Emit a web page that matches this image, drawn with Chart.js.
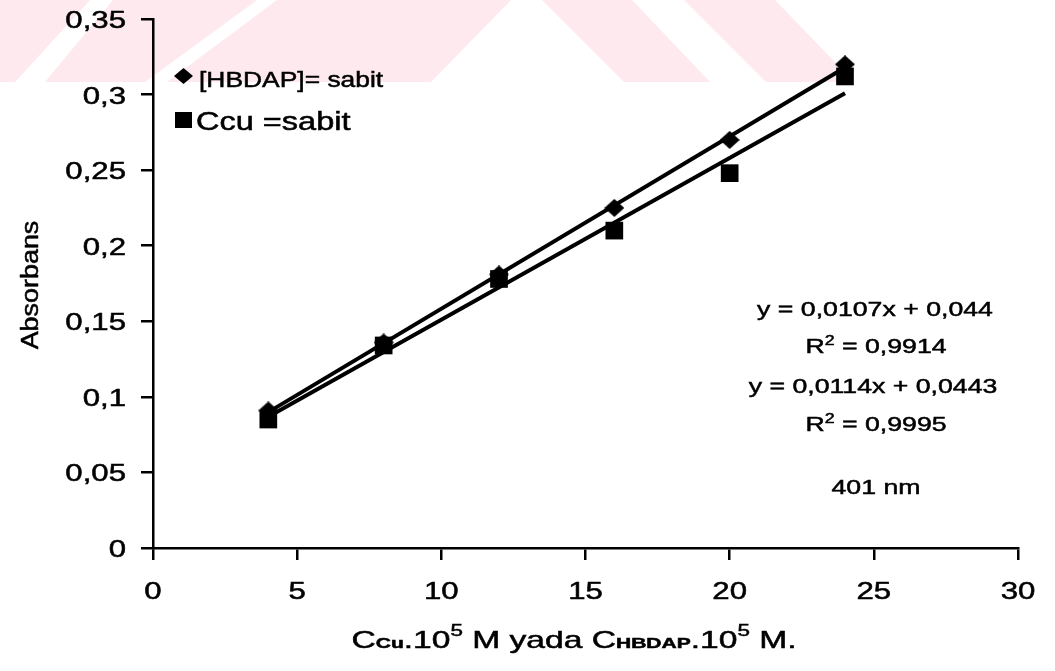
<!DOCTYPE html>
<html lang="tr">
<head>
<meta charset="UTF-8">
<title>Absorbans - derişim (401 nm)</title>
<script src="https://cdn.jsdelivr.net/npm/chart.js"></script>
<style>
  body { margin: 0; background: #fff; }
  #wrap { width: 1055px; height: 671px; }
</style>
</head>
<body>
<div id="wrap"><canvas id="absChart" width="1055" height="671"></canvas></div>
<script>
// concentrations (x 10^5 M)
const concentrations = [4, 8, 12, 16, 20, 24];
// absorbance at 401 nm
const absHbdapConst = [0.091, 0.136, 0.181, 0.225, 0.270, 0.320];
const absCuConst = [0.085, 0.134, 0.178, 0.210, 0.248, 0.312];
// least squares fits: [slope, intercept, R2]
const fitCuConst = [0.0107, 0.044, 0.9914];
const fitHbdapConst = [0.0114, 0.0443, 0.9995];
// axis ticks
const yTicks = [0, 0.05, 0.1, 0.15, 0.2, 0.25, 0.3, 0.35];
const xTicks = [0, 5, 10, 15, 20, 25, 30];

const FONT = '"Liberation Sans", Arial, sans-serif';
let STRETCH = 1.3;

const fmt = v => String(v).replace('.', ',');
const toPoints = ys => concentrations.map((x, i) => ({ x: x, y: ys[i] }));
const fitLine = fit => [concentrations[0], concentrations[concentrations.length - 1]]
  .map(x => ({ x: x, y: fit[0] * x + fit[1] }));

// draws a run of text pieces [text, size, dy, bold] with a horizontal stretch
function richText(ctx, parts, x, y, align, stretch) {
  const sx = stretch || STRETCH;
  const widths = parts.map(p => {
    ctx.font = (p[3] ? 'bold ' : '') + p[1] + 'px ' + FONT;
    return ctx.measureText(p[0]).width * sx;
  });
  const total = widths.reduce((a, b) => a + b, 0);
  let cx = align === 'center' ? x - total / 2 : align === 'right' ? x - total : x;
  parts.forEach((p, i) => {
    ctx.font = (p[3] ? 'bold ' : '') + p[1] + 'px ' + FONT;
    ctx.save();
    ctx.translate(cx, y + (p[2] || 0));
    ctx.scale(sx, 1);
    ctx.textAlign = 'left';
    ctx.textBaseline = 'alphabetic';
    ctx.fillText(p[0], 0, 0);
    // a touch heavier, like a printed scan
    ctx.lineWidth = 0.5;
    ctx.strokeStyle = '#000';
    ctx.strokeText(p[0], 0, 0);
    ctx.restore();
    cx += widths[i];
  });
}

// slightly wide diamond marker
function diamondMarker(w, h) {
  const c = document.createElement('canvas');
  c.width = w; c.height = h;
  const g = c.getContext('2d');
  g.fillStyle = '#000';
  g.beginPath();
  g.moveTo(w / 2, 0);
  g.lineTo(w, h / 2);
  g.lineTo(w / 2, h);
  g.lineTo(0, h / 2);
  g.closePath();
  g.fill();
  return c;
}

// faint pink banner at the top of the page
const banner = {
  id: 'banner',
  beforeDraw(chart) {
    const ctx = chart.ctx;
    ctx.save();
    ctx.fillStyle = '#fff';
    ctx.fillRect(0, 0, chart.width, chart.height);
    ctx.fillStyle = 'rgb(253,233,238)';
    const shapes = [
      [[0, 0], [90, 0], [15, 82], [0, 82]],
      [[113, 0], [257, 0], [145, 82], [45, 82]],
      [[277, 0], [511, 0], [431, 82], [167, 82]],
      [[542, 0], [632, 0], [710, 82], [624, 82]],
      [[684, 0], [775, 0], [854, 82], [766, 82]]
    ];
    shapes.forEach(s => {
      ctx.beginPath();
      ctx.moveTo(s[0][0], s[0][1]);
      s.slice(1).forEach(p => ctx.lineTo(p[0], p[1]));
      ctx.closePath();
      ctx.fill();
    });
    ctx.restore();
  }
};

// tick labels, titles, legend and fit equations
const labels = {
  id: 'labels',
  afterDraw(chart) {
    const ctx = chart.ctx;
    const xs = chart.scales.x, ys = chart.scales.y;
    ctx.save();
    ctx.fillStyle = '#000';

    yTicks.forEach(v => {
      richText(ctx, [[fmt(v), 24]], 126, ys.getPixelForValue(v) + 9, 'right');
    });
    xTicks.forEach(v => {
      richText(ctx, [[fmt(v), 24]], xs.getPixelForValue(v), 599, 'center');
    });

    // y title
    ctx.save();
    ctx.translate(38, 285);
    ctx.rotate(-Math.PI / 2);
    ctx.font = '23px ' + FONT;
    ctx.scale(1.17, 1);
    ctx.textAlign = 'center';
    ctx.fillText('Absorbans', 0, 0);
    ctx.lineWidth = 0.5;
    ctx.strokeStyle = '#000';
    ctx.strokeText('Absorbans', 0, 0);
    ctx.restore();

    // x title
    richText(ctx, [
      ['C', 24], ['Cu', 15, 0, true], ['.10', 24], ['5', 16, -12],
      [' M yada C', 24], ['HBDAP', 15, 0, true], ['.10', 24], ['5', 16, -12], [' M.', 24]
    ], 574, 648, 'center', 1.4);

    // legend
    ctx.drawImage(diamondMarker(19, 16), 174, 68);
    richText(ctx, [['[HBDAP]= sabit', 22]], 199, 87, 'left', 1.2);
    ctx.fillRect(175, 112, 17, 16);
    richText(ctx, [['Ccu =sabit', 25]], 196, 130, 'left', 1.3);

    // fit equations
    const eq = f => 'y = ' + fmt(f[0]) + 'x + ' + fmt(f[1]);
    richText(ctx, [[eq(fitCuConst), 21]], 875, 316, 'center', 1.27);
    richText(ctx, [['R', 21], ['2', 14, -8], [' = ' + fmt(fitCuConst[2]), 21]], 876, 353, 'center', 1.27);
    richText(ctx, [[eq(fitHbdapConst), 21]], 873, 393, 'center', 1.27);
    richText(ctx, [['R', 21], ['2', 14, -8], [' = ' + fmt(fitHbdapConst[2]), 21]], 876, 431, 'center', 1.27);
    richText(ctx, [['401 nm', 21]], 876, 494, 'center', 1.27);
    ctx.restore();
  }
};

const axisLook = {
  grid: { drawOnChartArea: false, drawTicks: true, tickLength: 12, color: '#000', lineWidth: 2.5 },
  border: { display: true, color: '#000', width: 2.5 },
  ticks: { display: false }
};

new Chart(document.getElementById('absChart'), {
  type: 'scatter',
  data: {
    datasets: [
      {
        label: 'Ccu =sabit',
        data: toPoints(absCuConst),
        pointStyle: 'rect',
        pointRadius: 12.5,
        backgroundColor: '#000',
        borderColor: '#000',
        borderWidth: 0,
        order: 0
      },
      {
        label: '[HBDAP]= sabit',
        data: toPoints(absHbdapConst),
        pointStyle: diamondMarker(20, 18),
        backgroundColor: '#000',
        borderColor: '#000',
        borderWidth: 0,
        order: 1
      },
      {
        label: 'fit Ccu',
        data: fitLine(fitCuConst),
        showLine: true,
        pointRadius: 0,
        borderColor: '#000',
        borderWidth: 4,
        order: 2
      },
      {
        label: 'fit HBDAP',
        data: fitLine(fitHbdapConst),
        showLine: true,
        pointRadius: 0,
        borderColor: '#000',
        borderWidth: 4,
        order: 2
      }
    ]
  },
  options: {
    responsive: false,
    animation: false,
    events: [],
    layout: { padding: { top: 19, right: 37, left: 0, bottom: 0 } },
    plugins: { legend: { display: false }, tooltip: { enabled: false } },
    scales: {
      x: Object.assign({
        type: 'linear', min: 0, max: 30,
        afterBuildTicks: s => { s.ticks = xTicks.map(v => ({ value: v })); },
        afterFit: s => { s.height = 123; }
      }, axisLook),
      y: Object.assign({
        type: 'linear', min: 0, max: 0.35,
        afterBuildTicks: s => { s.ticks = yTicks.map(v => ({ value: v })); },
        afterFit: s => { s.width = 153; }
      }, axisLook)
    }
  },
  plugins: [banner, labels]
});
</script>
</body>
</html>
